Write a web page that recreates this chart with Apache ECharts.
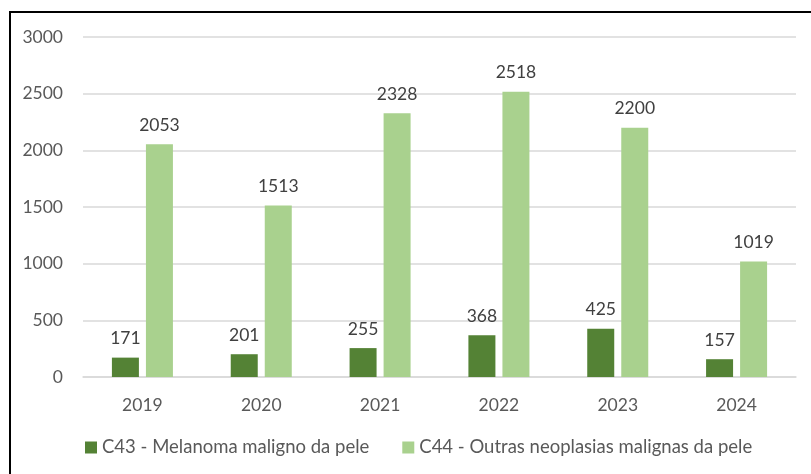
<!DOCTYPE html>
<html>
<head>
<meta charset="utf-8">
<script src="https://cdn.jsdelivr.net/npm/echarts@6/dist/echarts.min.js"></script>
<style>
  html, body { margin: 0; padding: 0; background: #fff; }
  #wrap { position: relative; width: 811px; height: 474px; }
  #frame { position: absolute; left: 9px; top: 11px; right: 0; bottom: 0;
           border-left: 2px solid #000; border-top: 2px solid #000; }
  #chart { position: absolute; left: 0; top: 0; width: 811px; height: 474px; }
</style>
</head>
<body>
<div id="wrap">
  <div id="frame"></div>
  <div id="chart"></div>
</div>
<script>
var anos = ['2019', '2020', '2021', '2022', '2023', '2024'];
var c43 = [171, 201, 255, 368, 425, 157];
var c44 = [2053, 1513, 2328, 2518, 2200, 1019];
var nomes = ['C43 - Melanoma maligno da pele', 'C44 - Outras neoplasias malignas da pele'];

var fonte = 'Lato, "Liberation Sans", sans-serif';

var chart = echarts.init(document.getElementById('chart'));
var rotulo = {
    show: true,
    position: 'top',
    distance: 10,
    color: '#404040',
    fontSize: 17.5,
    fontFamily: fonte
};

chart.setOption({
    backgroundColor: 'transparent',
    animation: false,
    grid: { left: 83, right: 15, top: 37, bottom: 97 },
    legend: {
        data: nomes,
        left: 80,
        top: 433,
        itemWidth: 12,
        itemHeight: 12,
        itemGap: 33,
        icon: 'rect',
        textStyle: { color: '#595959', fontSize: 18.5, fontFamily: fonte }
    },
    xAxis: {
        type: 'category',
        data: anos,
        axisLine: { lineStyle: { color: '#d9d9d9', width: 1.5 } },
        axisTick: { show: false },
        axisLabel: { color: '#595959', fontSize: 17.5, fontFamily: fonte, margin: 19 }
    },
    yAxis: {
        type: 'value',
        min: 0,
        max: 3000,
        interval: 500,
        axisLine: { show: false },
        axisTick: { show: false },
        axisLabel: {
            color: '#595959', fontSize: 17.5, fontFamily: fonte, margin: 20,
            formatter: function (v) { return String(v); }
        },
        splitLine: { lineStyle: { color: '#d9d9d9', width: 1.5 } }
    },
    series: [{
        name: nomes[0],
        type: 'bar',
        data: c43,
        barWidth: 27,
        barGap: '26%',
        itemStyle: { color: '#548235' },
        label: rotulo
    }, {
        name: nomes[1],
        type: 'bar',
        data: c44,
        barWidth: 27,
        itemStyle: { color: '#a9d18e' },
        label: rotulo
    }]
});
</script>
</body>
</html>
